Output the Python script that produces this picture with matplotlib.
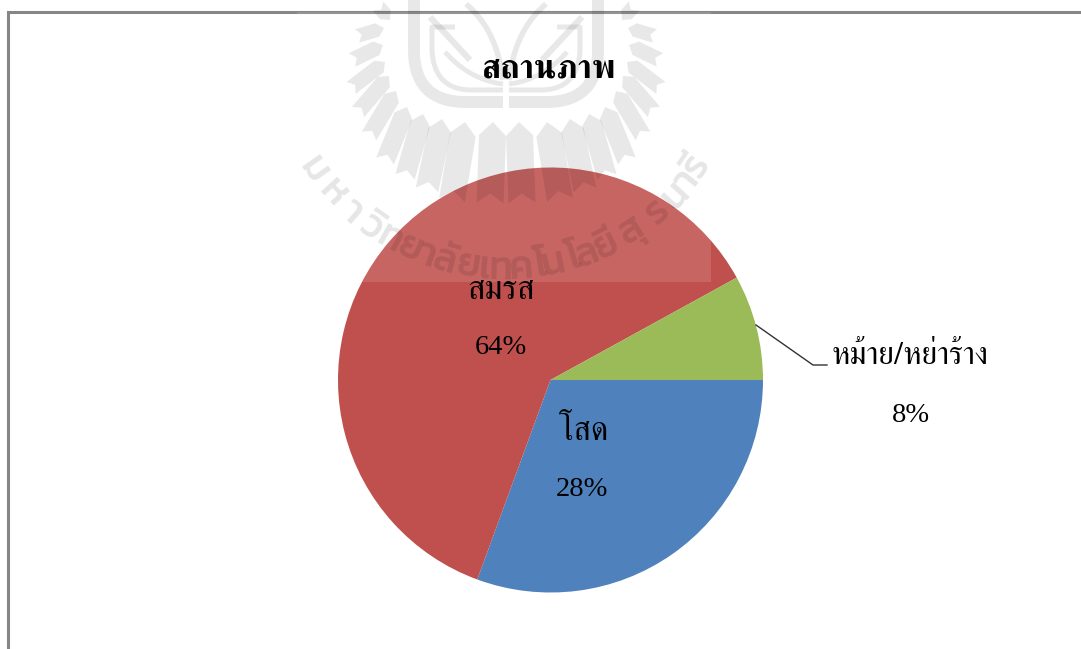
import numpy as np
import matplotlib
matplotlib.use('Agg')
import matplotlib.pyplot as plt
from matplotlib.patches import Rectangle, Polygon
from matplotlib import font_manager as fm

# slices, labels as printed on it
categories = ['โสด', 'สมรส', 'หม้าย/หย่าร้าง']
shares = [30.6, 61.4, 8.0]
printed = ['28%', '64%', '8%']
colors = ['#4F81BD', '#C0504D', '#9BBB59']
title = 'สถานภาพ'

# watermark text, one glyph cluster per angle (degrees off straight down)
wm_clusters = ['ม', 'ห', 'า', 'วิ', 'ท', 'ย', 'า', 'ลั', 'ย', 'เ', 'ท', 'ค', 'โ', 'น', 'โ', 'ล', 'ยี', 'สุ', 'ร', 'น', 'า', 'รี']
wm_angles = [-55, -47.5, -41, -35, -29.5, -24, -19.5, -15, -9, -5, -1, 4, 8.5, 12, 17, 20.5, 26, 33, 41, 47, 51.5, 56]

# logo rays, left half: inner x, inner y, outer x, outer y, half width
rays = [(390, 20, 378, 6, 7), (384, 28, 357, 36, 7), (383, 45, 352, 60, 7.5), (385, 62, 351, 88, 7.5),
        (389, 76, 358, 112, 8), (396, 91, 369, 136, 8.5), (407, 107, 385, 161, 9.5), (423, 114, 405, 177, 10),
        (442, 119, 427, 190, 11.5), (465, 122, 452, 200, 13), (493, 122, 490, 203, 13.5)]

THAI = ['FreeSerif', 'Liberation Serif']
LATIN = ['Liberation Serif']
W, H = 1081, 649
MID = 506

# heavier loopless face for the watermark, whichever is there
have = {f.name for f in fm.fontManager.ttflist}
WM_FONT = next((n for n in ['Kanit', 'Prompt', 'Sarabun', 'Anuphan'] if n in have), 'Loma')

fig = plt.figure(figsize=(W / 100, H / 100), dpi=100)
ax = fig.add_axes([0, 0, 1, 1])

# y is flipped, so counterclock here runs clockwise on screen
ax.pie(shares, colors=colors, startangle=0, counterclock=True, center=(550.5, 380), radius=212.5,
       wedgeprops={'linewidth': 0, 'zorder': 2})
ax.set_xlim(0, W)
ax.set_ylim(H, 0)
ax.set_aspect('equal')
ax.axis('off')

# chart frame, only top and left show
ax.plot([8, 8, W], [H, 12, 12], color='#868686', lw=2.2, zorder=1, solid_joinstyle='miter')

# watermark: white veil plus grey logo
ax.add_patch(Rectangle((297, 12), 414, 270, fc='white', ec='none', alpha=0.12, zorder=3))
wm = dict(color='black', alpha=0.09, zorder=4, solid_capstyle='butt')


def ray_shape(x0, y0, x1, y1, half):
    a = np.array([x0, y0], float)
    b = np.array([x1, y1], float)
    u = (b - a) / np.hypot(*(b - a))
    v = np.array([-u[1], u[0]])
    return [a, a + u * half + v * half, b + v * half, b - u * half * 0.7, b - v * half, a + u * half - v * half]


def curve(p0, p1, p2):
    t = np.linspace(0, 1, 30)
    x = (1 - t) ** 2 * p0[0] + 2 * t * (1 - t) * p1[0] + t ** 2 * p2[0]
    y = (1 - t) ** 2 * p0[1] + 2 * t * (1 - t) * p1[1] + t ** 2 * p2[1]
    return x, y


for r in rays:
    pts = np.array(ray_shape(*r))
    ax.add_patch(Polygon(pts, closed=True, fc='black', ec='none', alpha=0.09, zorder=4))
    pts[:, 0] = 2 * MID - pts[:, 0]
    ax.add_patch(Polygon(pts, closed=True, fc='black', ec='none', alpha=0.09, zorder=4))

for s in (-1, 1):
    # shield bands, then the leaves
    x, y = curve((414, 50), (414, 102), (466, 102))
    xs = np.r_[414, x, 503]
    ys = np.r_[0, y, 102]
    ax.plot(MID + s * (MID - xs), ys, lw=8.6, solid_joinstyle='round', **wm)
    x, y = curve((432, 50), (434, 90), (472, 90))
    xs = np.r_[455, 432, x, 503]
    ys = np.r_[27, 27, y, 90]
    ax.plot(MID + s * (MID - xs), ys, lw=3.6, solid_joinstyle='round', **wm)
    x, y = curve((503, 80), (497, 30), (466, 4))
    ax.plot(MID + s * (MID - x), y, lw=4, **wm)
    ax.plot(MID + s * (MID - np.array([430, 470])), [17, 60], lw=4.5, **wm)
    x, y = curve((445, 52), (470, 80), (503, 84))
    ax.plot(MID + s * (MID - x), y, lw=3.5, **wm)

R_WM = 234
for ch, deg in zip(wm_clusters, wm_angles):
    a = np.radians(deg)
    ax.text(505 + R_WM * np.sin(a), 36 + R_WM * np.cos(a), ch, family=WM_FONT, fontsize=28, weight='medium',
            rotation=deg, rotation_mode='anchor', ha='center', va='center', color='black', alpha=0.1, zorder=4)

# chart texts
tx = dict(color='black', ha='center', va='center', zorder=6)
ax.text(549, 69, title, family=THAI, fontsize=24, weight='bold', **tx)
ax.text(501, 291, categories[1], family=THAI, fontsize=24, **tx)
ax.text(501, 348, printed[1], family=LATIN, fontsize=20.5, **tx)
ax.text(584, 431, categories[0], family=THAI, fontsize=23.5, **tx)
ax.text(582, 489.5, printed[0], family=LATIN, fontsize=20.5, **tx)
ax.text(909.5, 356, categories[2], family=THAI, fontsize=22.7, **tx)
ax.text(911, 416, printed[2], family=LATIN, fontsize=20.5, **tx)

# leader line to the small slice
ax.plot([756, 813, 827], [325, 365, 365], color='#333333', lw=1, zorder=5)

fig.savefig('out.png', dpi=100)
